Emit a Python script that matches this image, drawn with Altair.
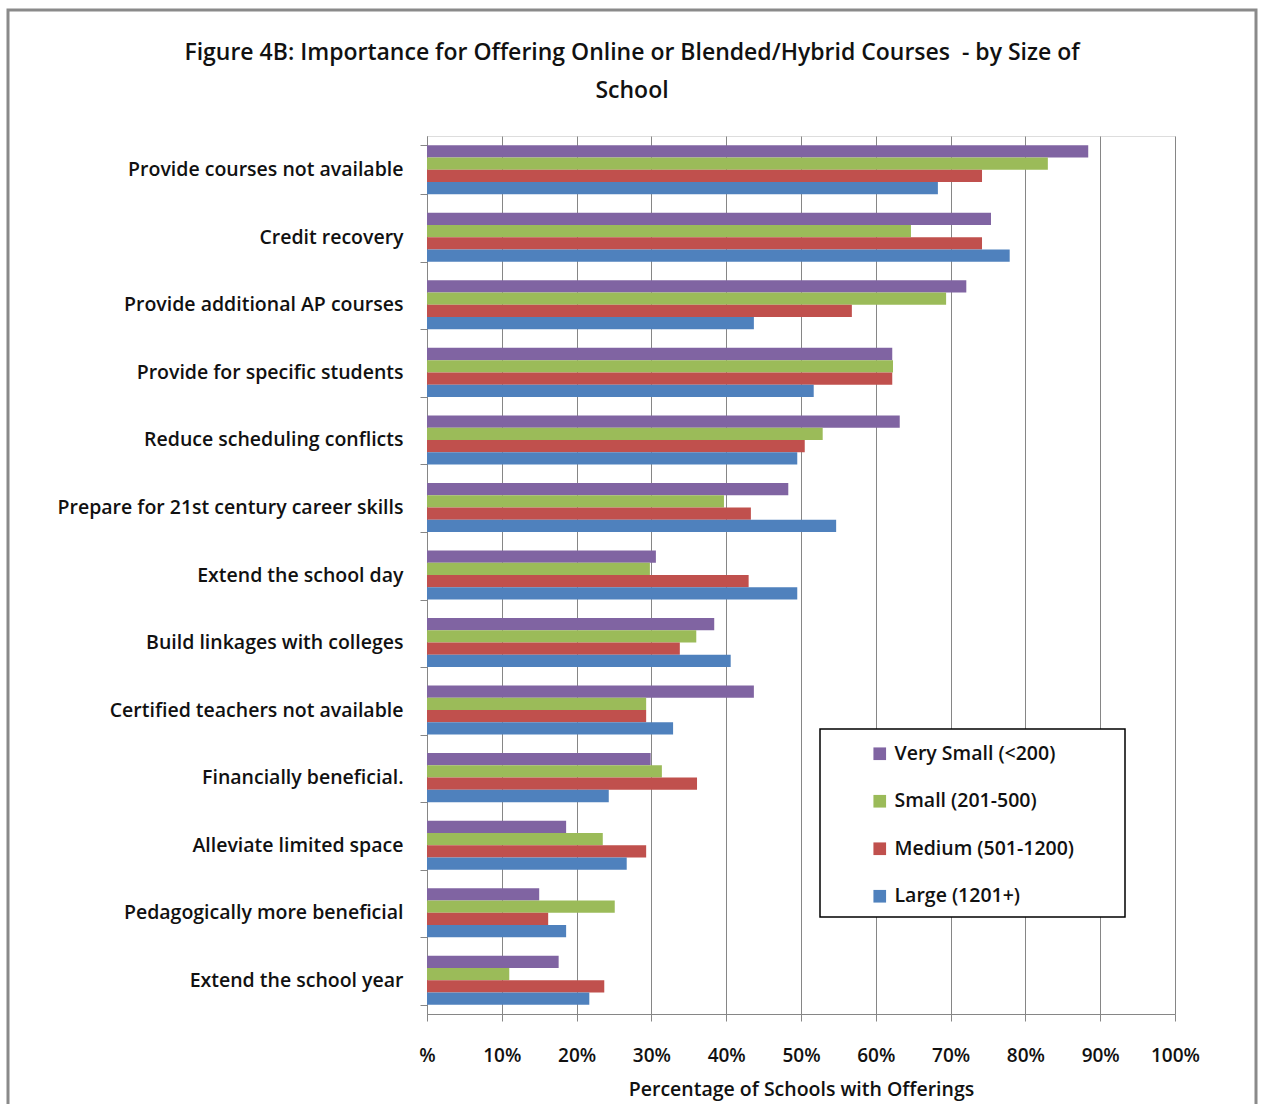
import altair as alt
import pandas as pd

categories = [
    "Provide courses not available",
    "Credit recovery",
    "Provide additional AP courses",
    "Provide for specific students",
    "Reduce scheduling conflicts",
    "Prepare for 21st century career skills",
    "Extend the school day",
    "Build linkages with colleges",
    "Certified teachers not available",
    "Financially beneficial.",
    "Alleviate limited space",
    "Pedagogically more beneficial",
    "Extend the school year",
]
series = ["Very Small (<200)", "Small (201-500)", "Medium (501-1200)", "Large (1201+)"]
very_small = [88.4, 75.4, 72.1, 62.2, 63.2, 48.3, 30.6, 38.4, 43.7, 29.9, 18.6, 15.0, 17.6]
small = [83.0, 64.7, 69.4, 62.3, 52.9, 39.7, 29.8, 36.0, 29.3, 31.4, 23.5, 25.1, 11.0]
medium = [74.2, 74.2, 56.8, 62.2, 50.5, 43.3, 43.0, 33.8, 29.3, 36.1, 29.3, 16.2, 23.7]
large = [68.3, 77.9, 43.7, 51.7, 49.5, 54.7, 49.5, 40.6, 32.9, 24.3, 26.7, 18.6, 21.7]
colors = ["#8064A2", "#9BBB59", "#C0504D", "#4F81BD"]

rows = []
for s, vals in zip(series, [very_small, small, medium, large]):
    for c, v in zip(categories, vals):
        rows.append({"category": c, "size": s, "value": v})
df = pd.DataFrame(rows)

FONT = "Open Sans"
W, H = 748, 878

bars = alt.Chart(df).mark_bar().encode(
    y=alt.Y("category:N", sort=categories,
            scale=alt.Scale(paddingInner=0.274, paddingOuter=0.137),
            axis=alt.Axis(title=None, tickBand="extent", tickSize=7, tickColor="#868686",
                          domainColor="#868686", labelPadding=17, labelFontSize=19.5,
                          labelFont=FONT, labelFontWeight=600, labelColor="#111111",
                          grid=False, labelLimit=420)),
    yOffset=alt.YOffset("size:N", sort=series, scale=alt.Scale(paddingInner=0, paddingOuter=0)),
    x=alt.X("value:Q", scale=alt.Scale(domain=[0, 100], nice=False),
            axis=alt.Axis(title="Percentage of Schools with Offerings",
                          values=list(range(0, 101, 10)),
                          labelExpr="datum.value == 0 ? '%' : datum.value + '%'",
                          labelFlush=False,
                          grid=True, gridColor="#868686", gridWidth=1,
                          tickSize=7, tickColor="#868686", domainColor="#868686",
                          labelPadding=25, labelFontSize=19, labelFont=FONT,
                          labelFontWeight=600, labelColor="#111111",
                          titleFont=FONT, titleFontSize=19.5, titleFontWeight=600,
                          titleColor="#111111", titlePadding=15)),
    color=alt.Color("size:N", sort=series,
                    scale=alt.Scale(domain=series, range=colors),
                    legend=alt.Legend(title=None, orient="none", legendX=443, legendY=608,
                                      padding=0, symbolType="square", symbolSize=160,
                                      symbolStrokeWidth=0, labelFontSize=19.5, labelFont=FONT,
                                      labelFontWeight=600, labelColor="#111111",
                                      labelLimit=300, labelOffset=5, rowPadding=26.5)),
)

one = pd.DataFrame({"a": [0]})
legend_box = alt.Chart(one).mark_rect(fill="white", stroke="black", strokeWidth=1.5).encode(
    x=alt.value(393), x2=alt.value(698), y=alt.value(593), y2=alt.value(781)
)
frame = alt.Chart(one).mark_rect(fill=None, stroke="#8a8a8a", strokeWidth=3).encode(
    x=alt.value(-419), x2=alt.value(829), y=alt.value(-126), y2=alt.value(1010)
)

chart = alt.layer(bars, legend_box, frame).properties(
    width=W, height=H,
    title=alt.Title(
        ["Figure 4B: Importance for Offering Online or Blended/Hybrid Courses \u00a0- by Size of", "School"],
        font=FONT, fontSize=23, fontWeight=600, color="#111111", lineHeight=38,
        anchor="middle", frame="bounds", offset=-94,
    ),
    autosize=alt.AutoSizeParams(type="none"),
    padding={"left": 427, "top": 136, "right": 89, "bottom": 90},
).configure_view(stroke=None).configure(background="white")

chart.save("out.html", embed_options={"renderer": "svg", "actions": False})
